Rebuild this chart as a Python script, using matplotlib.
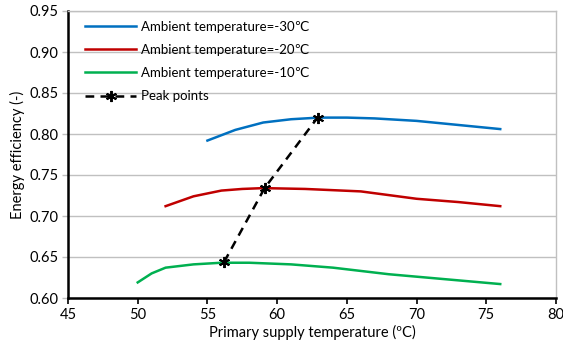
import matplotlib
matplotlib.use("Agg")
import matplotlib.pyplot as plt

plt.rcParams['font.family'] = ['Lato', 'DejaVu Sans']

blue_x = [55, 57, 59, 61, 63, 65, 67, 70, 73, 76]
blue_y = [0.792, 0.805, 0.814, 0.818, 0.820, 0.820, 0.819, 0.816, 0.811, 0.806]
red_x = [52, 54, 56, 57.5, 59, 62, 66, 70, 73, 76]
red_y = [0.712, 0.724, 0.731, 0.733, 0.734, 0.733, 0.730, 0.721, 0.717, 0.712]
green_x = [50, 51, 52, 54, 56, 58, 61, 64, 68, 72, 76]
green_y = [0.619, 0.630, 0.637, 0.641, 0.643, 0.643, 0.641, 0.637, 0.629, 0.623, 0.617]
peak_x = [56.2, 59.1, 62.9]
peak_y = [0.644, 0.734, 0.820]

labels = ["Ambient temperature=-30\u2103", "Ambient temperature=-20\u2103",
          "Ambient temperature=-10\u2103", "Peak points"]
xticks = [45, 50, 55, 60, 65, 70, 75, 80]
yticks = [0.60, 0.65, 0.70, 0.75, 0.80, 0.85, 0.90, 0.95]

fig = plt.figure(figsize=(5.63, 3.49), dpi=100)
ax = fig.add_axes([68/563, 1-298/349, (556-68)/563, (298-11)/349])

ax.plot(blue_x, blue_y, color='#0070C0', lw=1.8, label=labels[0], zorder=3)
ax.plot(red_x, red_y, color='#C00000', lw=1.8, label=labels[1], zorder=3)
ax.plot(green_x, green_y, color='#00B050', lw=1.8, label=labels[2], zorder=3)
ax.plot(peak_x, peak_y, color='black', lw=1.8, ls=(0, (3.5, 2.5)),
        marker=(6, 2, 0), ms=8, mew=1.4, label=labels[3], zorder=4)

ax.set_xlim(45, 80)
ax.set_ylim(0.60, 0.95)
ax.set_xticks(xticks)
ax.set_yticks(yticks)
ax.set_yticklabels([f"{v:.2f}" for v in yticks])
ax.grid(axis='y', color='#c0c0c0', lw=1.0)
ax.set_axisbelow(True)

for s in ['top', 'right']:
    ax.spines[s].set_color('#c0c0c0')
    ax.spines[s].set_linewidth(1.0)
for s in ['left', 'bottom']:
    ax.spines[s].set_color('black')
    ax.spines[s].set_linewidth(1.8)

ax.tick_params(axis='x', direction='out', length=4, width=1.2, color='black',
               labelsize=10.5, pad=3)
ax.tick_params(axis='y', direction='out', length=4, width=1.0, color='#c0c0c0',
               labelsize=10.5, pad=3)

ax.set_xlabel("Primary supply temperature (\u00baC)", fontsize=10.5, labelpad=2)
ax.set_ylabel("Energy efficiency (-)", fontsize=10.5, labelpad=3)

ax.legend(loc='upper left', frameon=False, fontsize=9.5, handlelength=3.8,
          handletextpad=0.4, labelspacing=0.85, borderaxespad=0.0,
          bbox_to_anchor=(0.025, 0.985))

fig.savefig("out.png", dpi=100)
